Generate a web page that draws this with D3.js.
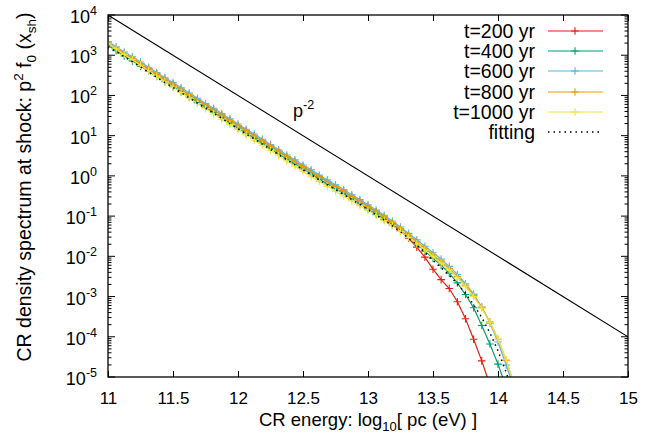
<!DOCTYPE html>
<html>
<head>
<meta charset="utf-8">
<script src="https://cdn.jsdelivr.net/npm/d3@7"></script>
<style>
  body { margin: 0; background: #fff; }
  text { font-family: "Liberation Sans", Arial, Helvetica, sans-serif; fill: #000; }
</style>
</head>
<body>
<svg id="svg" width="672" height="445"></svg>
<script>
// log10 of p^2 f0 at the shock, sampled on a shared energy grid
var energy = [11, 11.0625, 11.125, 11.1875, 11.25, 11.3125, 11.375, 11.4375, 11.5, 11.5625,
  11.625, 11.6875, 11.75, 11.8125, 11.875, 11.9375, 12, 12.0625, 12.125, 12.1875,
  12.25, 12.3125, 12.375, 12.4375, 12.5, 12.5625, 12.625, 12.6875, 12.75, 12.8125,
  12.875, 12.9375, 13, 13.0625, 13.125, 13.1875, 13.25, 13.3125, 13.375, 13.4375,
  13.5, 13.5625, 13.625, 13.6875, 13.75, 13.8125, 13.875, 13.9375, 14, 14.0625, 14.125];

var t200 = [3.30, 3.17, 3.04, 2.92, 2.79, 2.66, 2.53, 2.40, 2.28, 2.15,
  2.02, 1.89, 1.76, 1.64, 1.51, 1.38, 1.25, 1.12, 1.00, 0.87,
  0.74, 0.61, 0.48, 0.36, 0.23, 0.11, -0.02, -0.14, -0.26, -0.38,
  -0.51, -0.63, -0.76, -0.89, -1.03, -1.18, -1.36, -1.55, -1.77, -2.02,
  -2.32, -2.58, -2.80, -3.13, -3.55, -4.06, -4.60, -5.20];

var t400 = [3.24, 3.11, 2.98, 2.86, 2.73, 2.60, 2.47, 2.34, 2.22, 2.09,
  1.96, 1.83, 1.70, 1.58, 1.45, 1.32, 1.19, 1.06, 0.94, 0.81,
  0.68, 0.55, 0.42, 0.30, 0.17, 0.05, -0.08, -0.20, -0.32, -0.44,
  -0.57, -0.69, -0.82, -0.95, -1.08, -1.22, -1.37, -1.53, -1.70, -1.87,
  -2.05, -2.22, -2.42, -2.66, -2.95, -3.28, -3.72, -4.18, -4.68, -5.25];

var t600 = [3.34, 3.21, 3.08, 2.96, 2.83, 2.70, 2.57, 2.44, 2.32, 2.19,
  2.06, 1.93, 1.80, 1.68, 1.55, 1.42, 1.29, 1.16, 1.04, 0.91,
  0.78, 0.65, 0.52, 0.40, 0.27, 0.15, 0.02, -0.10, -0.22, -0.34,
  -0.47, -0.59, -0.72, -0.85, -0.98, -1.12, -1.27, -1.43, -1.59, -1.75,
  -1.91, -2.07, -2.25, -2.45, -2.68, -2.94, -3.26, -3.66, -4.13, -4.70, -5.30];

var t800 = [3.28, 3.16, 3.04, 2.92, 2.79, 2.66, 2.53, 2.40, 2.28, 2.15,
  2.02, 1.89, 1.76, 1.64, 1.51, 1.38, 1.25, 1.12, 1.00, 0.87,
  0.74, 0.61, 0.48, 0.36, 0.23, 0.11, -0.02, -0.14, -0.26, -0.38,
  -0.51, -0.63, -0.76, -0.89, -1.02, -1.16, -1.31, -1.47, -1.63, -1.80,
  -1.96, -2.12, -2.30, -2.50, -2.72, -2.97, -3.27, -3.63, -4.06, -4.58, -5.20];

var t1000 = [3.30, 3.16, 3.02, 2.89, 2.75, 2.61, 2.48, 2.34, 2.21, 2.07,
  1.94, 1.80, 1.67, 1.54, 1.41, 1.28, 1.15, 1.02, 0.89, 0.76,
  0.63, 0.50, 0.37, 0.24, 0.11, -0.02, -0.14, -0.26, -0.38, -0.50,
  -0.62, -0.74, -0.86, -0.98, -1.11, -1.24, -1.38, -1.53, -1.69, -1.85,
  -2.01, -2.17, -2.34, -2.53, -2.75, -3.00, -3.29, -3.64, -4.06, -4.57, -5.20];

var fitting = [3.21, 3.09, 2.96, 2.84, 2.71, 2.58, 2.45, 2.32, 2.20, 2.07,
  1.94, 1.81, 1.68, 1.56, 1.43, 1.30, 1.17, 1.04, 0.92, 0.79,
  0.66, 0.53, 0.40, 0.28, 0.15, 0.03, -0.10, -0.22, -0.34, -0.46,
  -0.59, -0.71, -0.84, -0.97, -1.10, -1.24, -1.39, -1.55, -1.72, -1.90,
  -2.10, -2.28, -2.47, -2.69, -2.92, -3.20, -3.52, -3.90, -4.35, -4.88, -5.50];

// p^-2 reference line end points
var refE = [11, 15];
var refV = [1e4, 1e-4];

var seriesNames = ['t=200 yr', 't=400 yr', 't=600 yr', 't=800 yr', 't=1000 yr'];
var seriesData = [t200, t400, t600, t800, t1000];
var seriesColors = ['#e51e10', '#009e73', '#56b4e9', '#e69f00', '#f0e442'];

var xTicks = [11, 11.5, 12, 12.5, 13, 13.5, 14, 14.5, 15];
var yExps = [-5, -4, -3, -2, -1, 0, 1, 2, 3, 4];

var pL = 108, pR = 628, pT = 15, pB = 377;

var svg = d3.select('svg');

var x = d3.scaleLinear().domain([11, 15]).range([pL, pR]);
var y = d3.scaleLog().domain([1e-5, 1e4]).range([pB, pT]);

svg.append('defs').append('clipPath')
    .attr('id', 'plotClip')
    .append('rect')
    .attr('x', pL).attr('y', pT)
    .attr('width', pR - pL).attr('height', pB - pT);

// ticks: bottom/top majors
svg.append('g')
    .attr('transform', 'translate(0,' + pB + ')')
    .call(d3.axisBottom(x).tickValues(xTicks).tickSize(-6).tickPadding(15)
        .tickFormat(function (d) { return d; }))
    .call(function (g) {
        g.select('.domain').remove();
        g.selectAll('text').attr('font-size', 17).attr('font-family', null);
        g.selectAll('line').attr('stroke', '#000');
    });

svg.append('g')
    .attr('transform', 'translate(0,' + pT + ')')
    .call(d3.axisTop(x).tickValues(xTicks).tickSize(-6).tickFormat(''))
    .call(function (g) {
        g.select('.domain').remove();
        g.selectAll('line').attr('stroke', '#000');
    });

// y ticks: majors and log minors on both sides
var majors = yExps.map(function (e) { return Math.pow(10, e); });
var minors = [];
yExps.slice(0, -1).forEach(function (e) {
    [2, 3, 4, 5, 6, 7, 8, 9].forEach(function (m) { minors.push(m * Math.pow(10, e)); });
});

function yTicks(g, side) {
    var x0 = side === 'left' ? pL : pR;
    var dir = side === 'left' ? 1 : -1;
    g.selectAll('.maj').data(majors).enter().append('line')
        .attr('x1', x0).attr('x2', x0 + dir * 7)
        .attr('y1', function (d) { return y(d); })
        .attr('y2', function (d) { return y(d); })
        .attr('stroke', '#000');
    g.selectAll('.min').data(minors).enter().append('line')
        .attr('x1', x0).attr('x2', x0 + dir * 3.5)
        .attr('y1', function (d) { return y(d); })
        .attr('y2', function (d) { return y(d); })
        .attr('stroke', '#000');
}
svg.append('g').call(yTicks, 'left');
svg.append('g').call(yTicks, 'right');

// y labels 10^n
var yLab = svg.append('g').selectAll('text')
    .data(yExps)
    .enter()
    .append('text')
    .attr('x', 97)
    .attr('y', function (d) { return y(Math.pow(10, d)) + 8; })
    .attr('text-anchor', 'end')
    .attr('font-size', 18);
yLab.append('tspan').text('10');
yLab.append('tspan').attr('dy', -8).attr('font-size', 12.5)
    .text(function (d) { return d < 0 ? '-' + (-d) : d; });

// reference line
var plot = svg.append('g').attr('clip-path', 'url(#plotClip)');

plot.append('line')
    .attr('x1', x(refE[0])).attr('y1', y(refV[0]))
    .attr('x2', x(refE[1])).attr('y2', y(refV[1]))
    .attr('stroke', '#000')
    .attr('stroke-width', 1.1);

var line = d3.line()
    .x(function (d) { return x(d[0]); })
    .y(function (d) { return y(Math.pow(10, d[1])); });

function pairs(arr) {
    return arr.map(function (v, i) { return [energy[i], v]; });
}

function cross(sel, color) {
    sel.append('path')
        .attr('d', 'M-3.8,0H3.8M0,-3.8V3.8')
        .attr('stroke', color)
        .attr('stroke-width', 1.1)
        .attr('fill', 'none');
}

seriesData.forEach(function (s, i) {
    var pts = pairs(s);
    plot.append('path')
        .datum(pts)
        .attr('d', line)
        .attr('fill', 'none')
        .attr('stroke', seriesColors[i])
        .attr('stroke-width', 1.2);
    plot.append('g').selectAll('g')
        .data(pts)
        .enter()
        .append('g')
        .attr('transform', function (d) { return 'translate(' + x(d[0]) + ',' + y(Math.pow(10, d[1])) + ')'; })
        .call(cross, seriesColors[i]);
});

plot.append('path')
    .datum(pairs(fitting))
    .attr('d', line)
    .attr('fill', 'none')
    .attr('stroke', '#000')
    .attr('stroke-width', 1.5)
    .attr('stroke-dasharray', '1.5,4');

// border
svg.append('rect')
    .attr('x', pL).attr('y', pT)
    .attr('width', pR - pL).attr('height', pB - pT)
    .attr('fill', 'none')
    .attr('stroke', '#000')
    .attr('stroke-width', 1.3);

// p^-2 label
var pLab = svg.append('text')
    .attr('x', 293).attr('y', 117)
    .attr('font-size', 18);
pLab.append('tspan').text('p');
pLab.append('tspan').attr('dy', -8).attr('font-size', 12.5).text('-2');

// legend
var legend = svg.append('g');
var rowY = [31, 51, 71, 92, 112, 132];
seriesNames.forEach(function (name, i) {
    legend.append('text')
        .attr('x', 535).attr('y', rowY[i] + 7)
        .attr('text-anchor', 'end')
        .attr('font-size', 19.5)
        .text(name);
    legend.append('line')
        .attr('x1', 548).attr('x2', 603)
        .attr('y1', rowY[i]).attr('y2', rowY[i])
        .attr('stroke', seriesColors[i])
        .attr('stroke-width', 1.2);
    legend.append('g')
        .attr('transform', 'translate(575,' + rowY[i] + ')')
        .call(cross, seriesColors[i]);
});
legend.append('text')
    .attr('x', 535).attr('y', rowY[5] + 7)
    .attr('text-anchor', 'end')
    .attr('font-size', 19.5)
    .text('fitting');
legend.append('line')
    .attr('x1', 548).attr('x2', 603)
    .attr('y1', rowY[5]).attr('y2', rowY[5])
    .attr('stroke', '#000')
    .attr('stroke-width', 1.5)
    .attr('stroke-dasharray', '1.5,4');

// axis titles
var xt = svg.append('text')
    .attr('x', (pL + pR) / 2).attr('y', 426)
    .attr('text-anchor', 'middle')
    .attr('font-size', 18.5);
xt.append('tspan').text('CR energy: log');
xt.append('tspan').attr('dy', 5).attr('font-size', 13).text('10');
xt.append('tspan').attr('dy', -5).text('[ pc (eV) ]');

var yt = svg.append('text')
    .attr('transform', 'translate(31,' + 187 + ') rotate(-90)')
    .attr('text-anchor', 'middle')
    .attr('font-size', 19.5);
yt.append('tspan').text('CR density spectrum at shock: p');
yt.append('tspan').attr('dy', -8).attr('font-size', 13.5).text('2');
yt.append('tspan').attr('dy', 8).text(' f');
yt.append('tspan').attr('dy', 5).attr('font-size', 13.5).text('0');
yt.append('tspan').attr('dy', -5).text(' (x');
yt.append('tspan').attr('dy', 5).attr('font-size', 13.5).text('sh');
yt.append('tspan').attr('dy', -5).text(')');
</script>
</body>
</html>
